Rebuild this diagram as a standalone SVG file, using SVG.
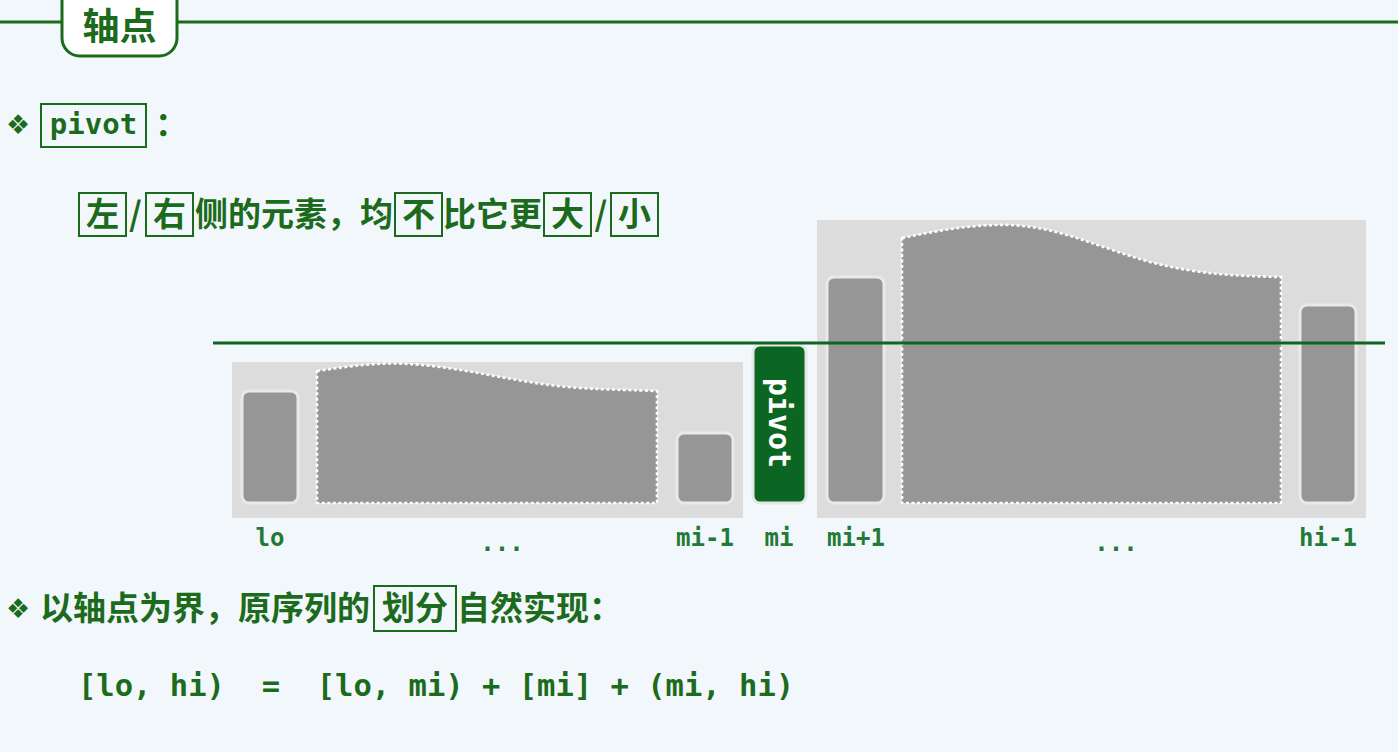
<svg xmlns="http://www.w3.org/2000/svg" width="1398" height="752" viewBox="0 0 1398 752">
<style>
.cjk{font-family:"Noto Sans CJK SC","Noto Sans",sans-serif;font-weight:bold;font-size:33px;fill:#1c6b1c}
.mono{font-family:"DejaVu Sans Mono","Liberation Mono",monospace;font-weight:bold;fill:#1c6b1c}
.lbl{font-family:"DejaVu Sans Mono","Liberation Mono",monospace;font-weight:bold;font-size:24px;fill:#217a38;text-anchor:middle}
.sym{font-family:"DejaVu Sans",sans-serif;font-size:27px;fill:#1c6b1c}
.box{fill:none;stroke:#1c6b1c;stroke-width:2}
.region{fill:#dcdcdc}
.bar{fill:#969696;stroke:#e9e9e9;stroke-width:3}
.dash{fill:#969696;stroke:#ffffff;stroke-width:2.6;stroke-dasharray:3 2.5}
</style>
<rect x="0" y="0" width="1398" height="752" fill="#f2f7fb"/>

<g id="title">
  <line x1="0" y1="22" x2="1398" y2="22" stroke="#1c6b1c" stroke-width="3"/>
  <rect x="62" y="-22" width="115" height="78" rx="18" fill="#ffffff" stroke="#1c6b1c" stroke-width="3"/>
  <text class="cjk" x="119.5" y="40" text-anchor="middle" style="font-size:37px">轴点</text>
</g>

<g id="line-pivot">
  <text class="sym" x="6" y="134">❖</text>
  <rect class="box" x="41" y="104" width="105" height="43"/>
  <text class="mono" x="93.5" y="134" font-size="29" text-anchor="middle">pivot</text>
  <text class="cjk" x="155" y="136">：</text>
</g>

<g id="line-rule">
  <rect class="box" x="79" y="193" width="47" height="43"/>
  <text class="cjk" x="102.5" y="226" text-anchor="middle">左</text>
  <text class="cjk" x="135.5" y="226" text-anchor="middle">/</text>
  <rect class="box" x="146" y="193" width="47" height="43"/>
  <text class="cjk" x="169.5" y="226" text-anchor="middle">右</text>
  <text class="cjk" x="195" y="226">侧的元素，均</text>
  <rect class="box" x="395" y="193" width="47" height="43"/>
  <text class="cjk" x="418.5" y="226" text-anchor="middle">不</text>
  <text class="cjk" x="443" y="226">比它更</text>
  <rect class="box" x="544" y="193" width="47" height="43"/>
  <text class="cjk" x="567.5" y="226" text-anchor="middle">大</text>
  <text class="cjk" x="601" y="226" text-anchor="middle">/</text>
  <rect class="box" x="611" y="193" width="47" height="43"/>
  <text class="cjk" x="634.5" y="226" text-anchor="middle">小</text>
</g>

<g id="left-part">
  <rect class="region" x="232" y="362" width="511" height="156"/>
  <rect class="bar" x="242" y="391" width="56" height="112" rx="7"/>
  <path class="dash" d="M317,371 C350,366 380,362 410,364 C470,368 520,384 580,388 C610,390 635,390 657,391 L657,503 L317,503 Z"/>
  <rect class="bar" x="677" y="433" width="56" height="70" rx="7"/>
</g>

<g id="pivot-node">
  <rect x="753" y="345" width="53" height="158" rx="7" fill="#0b6623" stroke="#e6e6e6" stroke-width="3"/>
  <text class="mono" x="0" y="0" font-size="30" fill="#002200" text-anchor="middle" dominant-baseline="central" transform="translate(778,424) rotate(90)">pivot</text>
  <text class="mono" x="0" y="0" font-size="30" style="fill:#ffffff" text-anchor="middle" dominant-baseline="central" transform="translate(779.5,423) rotate(90)">pivot</text>
</g>

<g id="right-part">
  <rect class="region" x="817" y="220" width="549" height="298"/>
  <rect class="bar" x="827" y="277" width="57" height="226" rx="7"/>
  <path class="dash" d="M902,238 C940,230 975,224 1010,225 C1060,227 1100,248 1150,262 C1200,275 1240,276 1281,277 L1281,503 L902,503 Z"/>
  <rect class="bar" x="1300" y="305" width="56" height="198" rx="7"/>
</g>

<g id="connectors">
  <line x1="213" y1="343" x2="1385" y2="343" stroke="#0b6623" stroke-width="3"/>
</g>

<g id="labels">
  <text class="lbl" x="270" y="546">lo</text>
  <text class="lbl" x="502" y="551">...</text>
  <text class="lbl" x="705" y="546">mi-1</text>
  <text class="lbl" x="779" y="546">mi</text>
  <text class="lbl" x="856" y="546">mi+1</text>
  <text class="lbl" x="1116" y="551">...</text>
  <text class="lbl" x="1328" y="546">hi-1</text>
</g>

<g id="line-partition">
  <text class="sym" x="6" y="618">❖</text>
  <text class="cjk" x="40" y="620">以轴点为界，原序列的</text>
  <rect class="box" x="374" y="586" width="82" height="45"/>
  <text class="cjk" x="415" y="620" text-anchor="middle">划分</text>
  <text class="cjk" x="457" y="620">自然实现：</text>
</g>

<g id="formula">
  <text class="mono" x="78" y="696" font-size="30.5" xml:space="preserve">[lo, hi)  =  [lo, mi) + [mi] + (mi, hi)</text>
</g>
</svg>
